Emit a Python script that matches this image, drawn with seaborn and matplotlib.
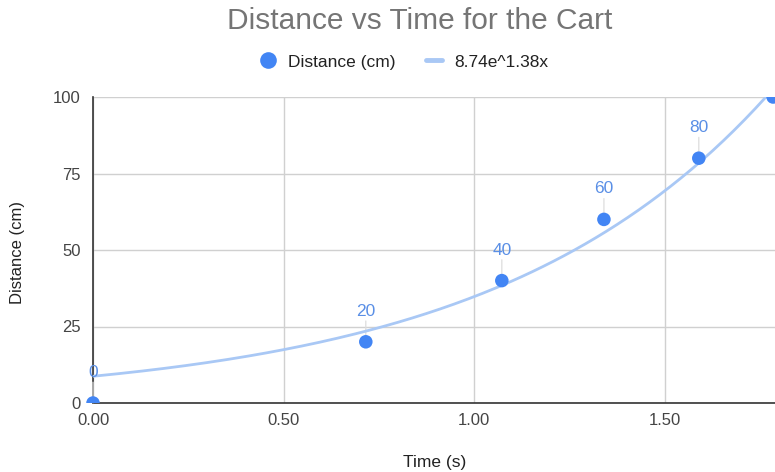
import numpy as np
import pandas as pd
import matplotlib
matplotlib.use("Agg")
import matplotlib.pyplot as plt
from matplotlib.lines import Line2D
from matplotlib.patches import Rectangle
import seaborn as sns

# Measured cart data
time_s = [0.00, 0.716, 1.073, 1.341, 1.590, 1.785]
distance_cm = [0, 20, 40, 60, 80, 100]
# Which points carry a value label (the top one would run into the legend)
show_label = [True, True, True, True, True, False]

# Exponential trendline coefficients: y = a * e^(b x)
trend_a = 8.74
trend_b = 1.38
trend_label = "8.74e^1.38x"

x_ticks = [0.0, 0.5, 1.0, 1.5]
x_tick_labels = ["0.00", "0.50", "1.00", "1.50"]
y_ticks = [0, 25, 50, 75, 100]

POINT = "#4285F4"
TREND = "#A9C8F5"
LABEL = "#5A8FE6"
GRID = "#D0D0D0"
AXIS = "#333333"
TEXT = "#444444"

sns.set_theme(style="white")
plt.rcParams["font.family"] = ["Liberation Sans", "DejaVu Sans"]

fig = plt.figure(figsize=(7.75, 4.72), dpi=100)
W, H = 775, 472
left, right, top, bottom = 93, 775, 97, 403
ax = fig.add_axes([left / W, 1 - bottom / H, (right - left) / W, (bottom - top) / H])

df = pd.DataFrame({"time": time_s, "distance": distance_cm})

xs = np.linspace(0, 1.85, 200)
trend = pd.DataFrame({"time": xs, "distance": trend_a * np.exp(trend_b * xs)})
sns.lineplot(data=trend, x="time", y="distance", ax=ax, color=TREND, linewidth=2.0,
             zorder=3, legend=False)
sns.scatterplot(data=df, x="time", y="distance", ax=ax, color=POINT, s=95,
                edgecolor="none", zorder=5, legend=False)

ax.set_xlim(0, 1.79)
ax.set_ylim(0, 100)

# Points are clipped at the baseline and top, but not at the left axis
clip = Rectangle((-0.1, 0), 1.89, 100, transform=ax.transData)
ax.collections[-1].set_clip_path(clip)

# Value labels with thin leader lines
for t, d, show in zip(time_s, distance_cm, show_label):
    if not show:
        continue
    ax.annotate(str(d), xy=(t, d), xytext=(0, 22), textcoords="offset points",
                ha="center", va="center", color=LABEL, fontsize=12.5, zorder=6,
                annotation_clip=False)
    ax.annotate("", xy=(t, d), xytext=(0, 15), textcoords="offset points",
                arrowprops=dict(arrowstyle="-", color="#DDDDDD", lw=0.9,
                                shrinkA=0, shrinkB=0), zorder=2)

ax.set_xticks(x_ticks)
ax.set_xticklabels(x_tick_labels)
ax.set_yticks(y_ticks)
ax.grid(True, color=GRID, linewidth=1.0)
ax.set_axisbelow(True)
for s in ["top", "right"]:
    ax.spines[s].set_visible(False)
for s in ["left", "bottom"]:
    ax.spines[s].set_color(AXIS)
    ax.spines[s].set_linewidth(1.2)
    ax.spines[s].set_zorder(1)
ax.tick_params(axis="y", length=5, color=GRID, labelsize=12, labelcolor=TEXT, pad=4)
ax.tick_params(axis="x", length=0, labelsize=12, labelcolor=TEXT, pad=7)
ax.set_xlabel("")
ax.set_ylabel("")

fig.text(18 / W, 1 - 253 / H, "Distance (cm)", rotation=90, ha="center", va="center",
         fontsize=12, color="#222222")
fig.text(435 / W, 1 - 462 / H, "Time (s)", ha="center", va="center",
         fontsize=12.5, color="#222222")
fig.text(420 / W, 1 - 21 / H, "Distance vs Time for the Cart", ha="center", va="center",
         fontsize=21.5, color="#757575")

handles = [
    Line2D([], [], marker="o", linestyle="none", markersize=12,
           markerfacecolor=POINT, markeredgecolor="none"),
    Line2D([], [], color=TREND, linewidth=3.5),
]
fig.legend(handles, ["Distance (cm)", trend_label], loc="center",
           bbox_to_anchor=(404 / W, 1 - 62 / H), ncol=2, frameon=False,
           fontsize=12.5, handlelength=0.9, handletextpad=0.7, columnspacing=1.8,
           labelcolor="#222222")

fig.savefig("out.png", dpi=100)
